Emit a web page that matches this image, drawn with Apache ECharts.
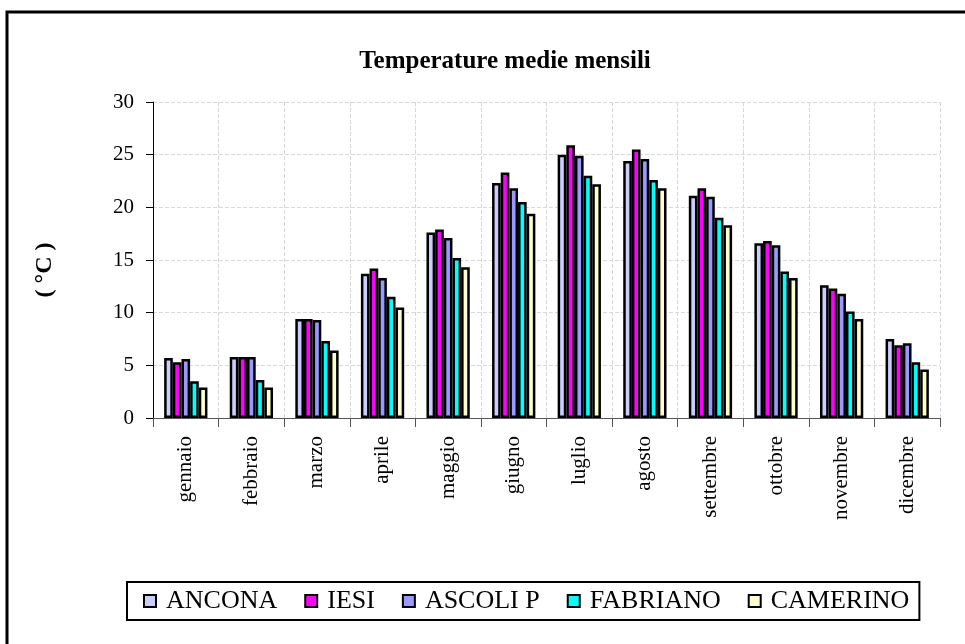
<!DOCTYPE html>
<html>
<head>
<meta charset="utf-8">
<script src="https://cdn.jsdelivr.net/npm/echarts@6/dist/echarts.min.js"></script>
<style>html,body{margin:0;padding:0;background:#fff}#c{width:965px;height:644px}</style>
</head>
<body>
<div id="c"></div>
<script>
const months = ['gennaio','febbraio','marzo','aprile','maggio','giugno','luglio','agosto','settembre','ottobre','novembre','dicembre'];
const ancona   = [5.7, 5.8, 9.4, 13.7, 17.6, 22.3, 25.0, 24.4, 21.1, 16.6, 12.6, 7.5];
const iesi     = [5.3, 5.8, 9.4, 14.2, 17.9, 23.3, 25.9, 25.5, 21.8, 16.8, 12.3, 6.9];
const ascoli   = [5.6, 5.8, 9.3, 13.3, 17.1, 21.8, 24.9, 24.6, 21.0, 16.4, 11.8, 7.1];
const fabriano = [3.5, 3.6, 7.3, 11.5, 15.2, 20.5, 23.0, 22.6, 19.0, 13.9, 10.1, 5.3];
const camerino = [2.9, 2.9, 6.4, 10.5, 14.3, 19.4, 22.2, 21.8, 18.3, 13.3, 9.4, 4.6];
const seriesNames = ['ANCONA','IESI','ASCOLI P','FABRIANO','CAMERINO'];
const seriesColors = ['#ccccff','#ff00ff','#9999ff','#00ffff','#ffffcc'];
const seriesData = [ancona, iesi, ascoli, fabriano, camerino];

const serif = '"Liberation Serif", "DejaVu Serif", serif';
const chart = echarts.init(document.getElementById('c'));
chart.setOption({
  animation: false,
  title: {
    text: 'Temperature medie mensili',
    left: 500, top: 44, textAlign: 'center',
    textStyle: {fontFamily: serif, fontWeight: 'bold', fontSize: 25, color: '#000'}
  },
  graphic: [{
    type: 'rect', shape: {x: 7, y: 12, width: 980, height: 660},
    style: {fill: 'none', stroke: '#000', lineWidth: 3}, silent: true
  }, {
    type: 'text', x: 45, y: 270, rotation: Math.PI / 2,
    style: {text: '( °C )', font: 'bold 24px ' + serif, fill: '#000', textAlign: 'center', textVerticalAlign: 'middle'},
    silent: true
  }],
  legend: {
    left: 127, top: 582,
    data: seriesNames,
    icon: 'rect', itemWidth: 12, itemHeight: 12, itemGap: 27,
    padding: [6, 10, 6, 16],
    borderColor: '#000', borderWidth: 2,
    textStyle: {fontFamily: serif, fontSize: 26, color: '#000', padding: [0, 0, 0, 5]},
    itemStyle: {borderColor: '#000', borderWidth: 2}
  },
  grid: {left: 153, right: 25, top: 102, bottom: 226},
  xAxis: {
    type: 'category', data: months,
    axisLine: {lineStyle: {color: '#555', width: 1}},
    axisTick: {show: true, length: 9, lineStyle: {color: '#555'}},
    axisLabel: {rotate: 90, fontFamily: serif, fontSize: 21, color: '#000', margin: 18},
    splitLine: {show: true, lineStyle: {color: '#d8d8d8', type: 'dashed', width: 1}}
  },
  yAxis: {
    type: 'value', min: 0, max: 30, interval: 5,
    axisLine: {show: true, lineStyle: {color: '#000', width: 1}},
    axisTick: {show: true, length: 7, lineStyle: {color: '#000'}},
    axisLabel: {fontFamily: serif, fontSize: 21, color: '#000', margin: 19},
    splitLine: {show: true, lineStyle: {color: '#d8d8d8', type: 'dashed', width: 1}}
  },
  series: seriesNames.map((n, i) => ({
    name: n, type: 'bar', data: seriesData[i],
    barCategoryGap: '34%', barGap: '0%',
    itemStyle: {color: seriesColors[i], borderColor: '#000', borderWidth: 2.5}
  }))
});
</script>
</body>
</html>
